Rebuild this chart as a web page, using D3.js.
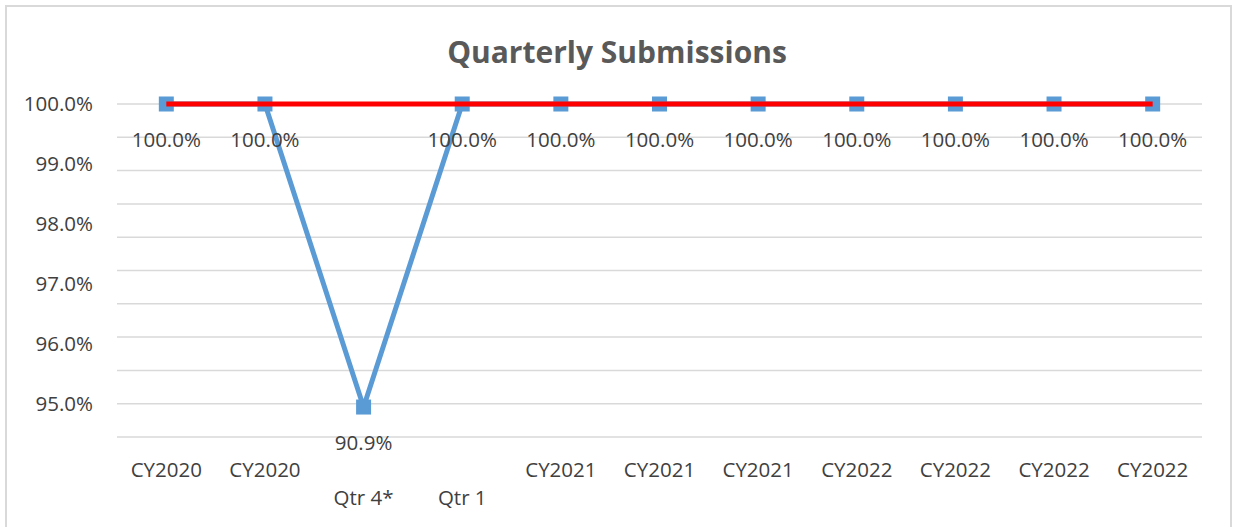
<!DOCTYPE html>
<html lang="en">
<head>
    <meta charset="UTF-8">
    <title>Quarterly Submissions</title>
    <style>
        body { margin: 0; background: #fff; }
        text { font-family: "Open Sans", sans-serif; fill: #404040; }
    </style>
</head>
<body>
    <svg width="1233" height="527"></svg>
    <script src="https://d3js.org/d3.v7.min.js"></script>
    <script>
        // data
        let labelTop = ["CY2020", "CY2020", "", "", "CY2021", "CY2021", "CY2021", "CY2022", "CY2022", "CY2022", "CY2022"];
        let labelBottom = ["", "", "Qtr 4*", "Qtr 1", "", "", "", "", "", "", ""];
        let submissions = [100, 100, 90.9, 100, 100, 100, 100, 100, 100, 100, 100];
        let target = [100, 100, 100, 100, 100, 100, 100, 100, 100, 100, 100];
        let yTickLabels = ["100.0%", "99.0%", "98.0%", "97.0%", "96.0%", "95.0%"];

        let svg = d3.select("svg"),
            margin = { top: 104, right: 31, bottom: 90, left: 117 },
            width = +svg.attr("width") - margin.left - margin.right,
            height = 437 - margin.top;

        // chart border
        svg.append("rect")
            .attr("x", 6).attr("y", 6)
            .attr("width", 1225).attr("height", 540)
            .attr("fill", "none")
            .attr("stroke", "#d9d9d9")
            .attr("stroke-width", 2);

        svg.append("text")
            .attr("x", 617).attr("y", 63)
            .attr("text-anchor", "middle")
            .style("font-size", "30px")
            .style("font-weight", "bold")
            .style("fill", "#595959")
            .text("Quarterly Submissions");

        let g = svg.append("g").attr("transform", "translate(" + margin.left + "," + margin.top + ")");

        let idx = d3.range(submissions.length);
        let x = d3.scalePoint().domain(idx).range([0, width]).padding(0.5);
        let y = d3.scaleLinear().domain([90, 100]).range([height, 0]);

        // gridlines
        g.selectAll(".grid")
            .data(d3.range(90, 101, 1))
            .enter().append("line")
            .attr("x1", 0).attr("x2", width)
            .attr("y1", d => y(d)).attr("y2", d => y(d))
            .attr("stroke", "#d9d9d9")
            .attr("stroke-width", 1.5);

        // y labels (as shown in the original, spread between 100 and 91)
        let yl = d3.scalePoint().domain(yTickLabels).range([y(100), y(91)]);
        g.selectAll(".ylab")
            .data(yTickLabels)
            .enter().append("text")
            .attr("x", -24)
            .attr("y", d => yl(d))
            .attr("dy", "0.36em")
            .attr("text-anchor", "end")
            .style("font-size", "20.5px")
            .text(d => d);

        // x labels
        g.selectAll(".xlab1")
            .data(idx)
            .enter().append("text")
            .attr("x", d => x(d))
            .attr("y", height + 33)
            .attr("dy", "0.36em")
            .attr("text-anchor", "middle")
            .style("font-size", "20.5px")
            .text(d => labelTop[d]);

        g.selectAll(".xlab2")
            .data(idx)
            .enter().append("text")
            .attr("x", d => x(d))
            .attr("y", height + 61)
            .attr("dy", "0.36em")
            .attr("text-anchor", "middle")
            .style("font-size", "20.5px")
            .text(d => labelBottom[d]);

        let line = d3.line()
            .x((d, i) => x(i))
            .y(d => y(d));

        g.append("path")
            .datum(submissions)
            .attr("fill", "none")
            .attr("stroke", "#5b9bd5")
            .attr("stroke-width", 5)
            .attr("stroke-linejoin", "round")
            .attr("d", line);

        g.selectAll(".marker")
            .data(submissions)
            .enter().append("rect")
            .attr("x", (d, i) => x(i) - 7.5)
            .attr("y", d => y(d) - 7.5)
            .attr("width", 15).attr("height", 15)
            .attr("fill", "#5b9bd5");

        g.append("path")
            .datum(target)
            .attr("fill", "none")
            .attr("stroke", "#ff0000")
            .attr("stroke-width", 5)
            .attr("d", line);

        // data labels
        g.selectAll(".dlab")
            .data(submissions)
            .enter().append("text")
            .attr("x", (d, i) => x(i))
            .attr("y", d => y(d) + 36)
            .attr("dy", "0.36em")
            .attr("text-anchor", "middle")
            .style("font-size", "20.5px")
            .text(d => d.toFixed(1) + "%");
    </script>
</body>
</html>
